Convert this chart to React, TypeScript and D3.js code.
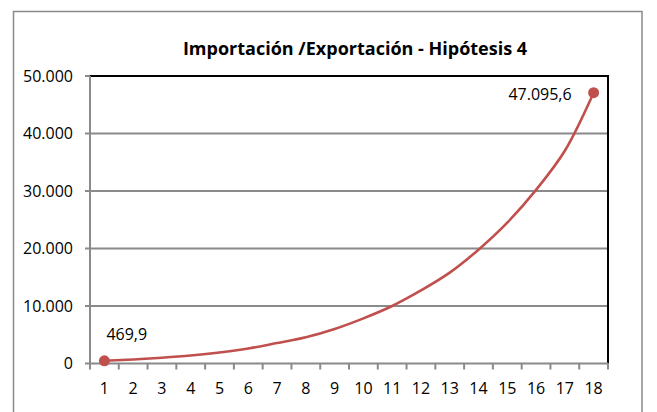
import React, { useEffect, useRef } from 'react';
import * as d3 from 'd3';

const title = 'Importación /Exportación - Hipótesis 4';
const categories = ['1', '2', '3', '4', '5', '6', '7', '8', '9', '10', '11', '12', '13', '14', '15', '16', '17', '18'];
const values = [469.9, 700, 1000, 1380, 1900, 2600, 3550, 4550, 6000, 7850, 10000, 12700, 15800, 19800, 24500, 30200, 37000, 47095.6];
const yTicks = [0, 10000, 20000, 30000, 40000, 50000];
// only first and last points carry a marker and a label
const labelled = [0, 17];

const W = 657;
const H = 412;
const plot = { left: 90, right: 608, top: 76, bottom: 363.5 };
const red = '#C0504D';
const grey = '#8a8a8a';
const font = "'Open Sans', 'Liberation Sans', sans-serif";

const esLocale = d3.formatLocale({ decimal: ',', thousands: '.', grouping: [3], currency: ['', ''] });
const fmtTick = esLocale.format(',.0f');
const fmtLabel = esLocale.format(',.1f');

const App = () => {
    const ref = useRef<SVGSVGElement>(null);

    useEffect(() => {
        const svg = d3.select(ref.current);
        svg.selectAll('*').remove();

        const x = d3.scaleBand().domain(categories).range([plot.left, plot.right]);
        const y = d3.scaleLinear().domain([0, 50000]).range([plot.bottom, plot.top]);
        const cx = (i: number) => x(categories[i]) + x.bandwidth() / 2;

        // chart frame
        svg.append('rect')
            .attr('x', 13.5)
            .attr('y', 11.5)
            .attr('width', 628.5)
            .attr('height', 430)
            .attr('fill', '#fff')
            .attr('stroke', grey)
            .attr('stroke-width', 1.5);

        svg.append('text')
            .attr('x', 355)
            .attr('y', 55)
            .attr('text-anchor', 'middle')
            .style('font', `bold 18px ${font}`)
            .attr('fill', '#000')
            .text(title);

        // gridlines
        svg.append('g')
            .selectAll('line')
            .data(yTicks.filter(d => d > 0 && d < 50000))
            .enter()
            .append('line')
            .attr('x1', plot.left)
            .attr('x2', plot.right)
            .attr('y1', d => y(d))
            .attr('y2', d => y(d))
            .attr('stroke', grey)
            .attr('stroke-width', 1.8);

        // plot area border (top + right are black)
        svg.append('path')
            .attr('d', `M${plot.left},${y(50000)}H${plot.right}V${plot.bottom}`)
            .attr('fill', 'none')
            .attr('stroke', '#000')
            .attr('stroke-width', 2);

        // y axis
        const yAxis = svg.append('g');
        yAxis.append('line')
            .attr('x1', plot.left).attr('x2', plot.left)
            .attr('y1', plot.top).attr('y2', plot.bottom)
            .attr('stroke', grey).attr('stroke-width', 2);
        yAxis.selectAll('line.tick')
            .data(yTicks)
            .enter()
            .append('line')
            .attr('class', 'tick')
            .attr('x1', plot.left - 5).attr('x2', plot.left)
            .attr('y1', d => y(d)).attr('y2', d => y(d))
            .attr('stroke', grey).attr('stroke-width', 2);
        yAxis.selectAll('text')
            .data(yTicks)
            .enter()
            .append('text')
            .attr('x', 73)
            .attr('y', d => y(d))
            .attr('dy', '0.36em')
            .attr('text-anchor', 'end')
            .style('font', `16px ${font}`)
            .text(d => fmtTick(d));

        // x axis, ticks sit between categories
        const xAxis = svg.append('g');
        xAxis.append('line')
            .attr('x1', plot.left).attr('x2', plot.right)
            .attr('y1', plot.bottom).attr('y2', plot.bottom)
            .attr('stroke', grey).attr('stroke-width', 2);
        const bounds = categories.map(c => x(c)).concat([plot.right]);
        xAxis.selectAll('line.tick')
            .data(bounds)
            .enter()
            .append('line')
            .attr('class', 'tick')
            .attr('x1', d => d).attr('x2', d => d)
            .attr('y1', plot.bottom).attr('y2', plot.bottom + 6)
            .attr('stroke', grey).attr('stroke-width', 2);
        xAxis.selectAll('text')
            .data(categories)
            .enter()
            .append('text')
            .attr('x', (d, i) => cx(i))
            .attr('y', 394)
            .attr('text-anchor', 'middle')
            .style('font', `16px ${font}`)
            .text(d => d);

        // series
        const line = d3.line<number>()
            .x((d, i) => cx(i))
            .y(d => y(d))
            .curve(d3.curveCatmullRom.alpha(0.5));
        svg.append('path')
            .datum(values)
            .attr('d', line)
            .attr('fill', 'none')
            .attr('stroke', red)
            .attr('stroke-width', 2.6)
            .attr('stroke-linejoin', 'round');

        svg.append('g')
            .selectAll('circle')
            .data(labelled)
            .enter()
            .append('circle')
            .attr('cx', i => cx(i))
            .attr('cy', i => y(values[i]))
            .attr('r', 5.5)
            .attr('fill', red);

        // data labels: first above-right, last to the left
        svg.append('g')
            .selectAll('text')
            .data(labelled)
            .enter()
            .append('text')
            .attr('x', i => cx(i) + (i === 0 ? 2 : -22))
            .attr('y', i => y(values[i]) + (i === 0 ? -21 : 7))
            .attr('text-anchor', i => (i === 0 ? 'start' : 'end'))
            .style('font', `16px ${font}`)
            .text(i => fmtLabel(values[i]));
    }, []);

    return (
        <svg
            ref={ref}
            width={W}
            height={H}
            style={{ position: 'absolute', left: 0, top: 0, background: '#fff' }}
        />
    );
};

export default App;
